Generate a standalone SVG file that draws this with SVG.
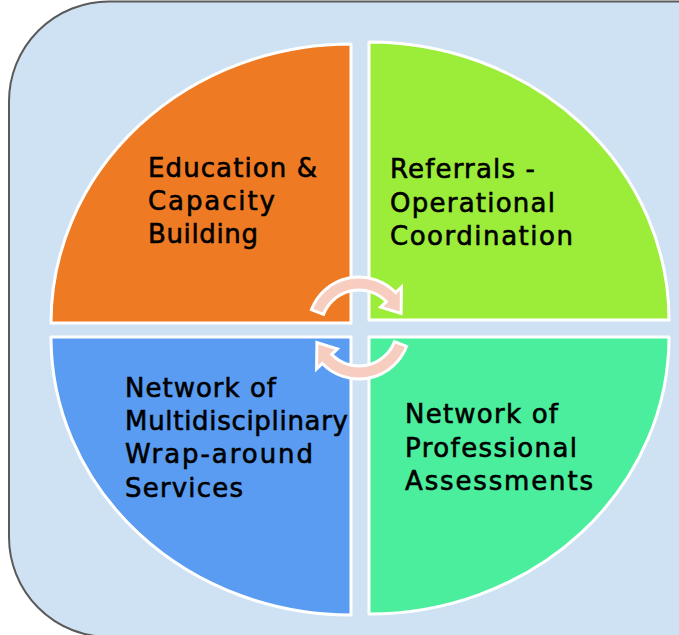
<svg xmlns="http://www.w3.org/2000/svg" width="679" height="635" viewBox="0 0 679 635">
<defs>
<style>
.q{stroke:#ffffff;stroke-width:3;stroke-linejoin:round}
.t{font-family:"DejaVu Sans","Liberation Sans",sans-serif;font-size:26px;fill:#000000;stroke:#000000;stroke-width:0.6}
.arr{fill:#F6CDBF;stroke:#ffffff;stroke-width:3;stroke-linejoin:miter}
</style>
<path id="arrowShape" d="M311.39,309.72 A51,51 0 0 1 395.69,292.57 L401.44,287.01 L401.08,313.51 L380.58,307.16 L386.33,301.60 A38,38 0 0 0 323.52,314.38 Z"/>
</defs>
<rect id="background" x="9" y="1.5" width="800" height="635.5" rx="100" ry="100" fill="#CFE2F3" stroke="#5a5a5a" stroke-width="2"/>
<g id="education">
<path class="q" fill="#EE7B23" d="M351,323 L51,323 A300,279 0 0 1 351,44 Z"/>
<text class="t"><tspan x="148" y="177" textLength="169" lengthAdjust="spacing">Education &amp;</tspan><tspan x="148" y="210" textLength="127" lengthAdjust="spacing">Capacity</tspan><tspan x="148" y="243" textLength="110" lengthAdjust="spacing">Building</tspan></text>
</g>
<g id="referrals">
<path class="q" fill="#9CEC3A" d="M369,320 L369,42 A300,278 0 0 1 669,320 Z"/>
<text class="t"><tspan x="390" y="178" textLength="145" lengthAdjust="spacing">Referrals -</tspan><tspan x="390" y="212" textLength="165" lengthAdjust="spacing">Operational</tspan><tspan x="390" y="245" textLength="183" lengthAdjust="spacing">Coordination</tspan></text>
</g>
<g id="wraparound">
<path class="q" fill="#599CF1" d="M351,337 L351,615 A300,278 0 0 1 51,337 Z"/>
<text class="t"><tspan x="125" y="397" textLength="151" lengthAdjust="spacing">Network of</tspan><tspan x="125" y="430" textLength="223" lengthAdjust="spacing">Multidisciplinary</tspan><tspan x="125" y="463" textLength="188" lengthAdjust="spacing">Wrap-around</tspan><tspan x="125" y="497" textLength="118" lengthAdjust="spacing">Services</tspan></text>
</g>
<g id="assessments">
<path class="q" fill="#4BEE9C" d="M369,337 L669,337 A300,277 0 0 1 369,614 Z"/>
<text class="t"><tspan x="405" y="423" textLength="153" lengthAdjust="spacing">Network of</tspan><tspan x="405" y="457" textLength="172" lengthAdjust="spacing">Professional</tspan><tspan x="405" y="490" textLength="188" lengthAdjust="spacing">Assessments</tspan></text>
</g>
<g id="connectors">
<use href="#arrowShape" class="arr"/>
<use href="#arrowShape" class="arr" transform="rotate(180 359 328)"/>
</g>
</svg>
